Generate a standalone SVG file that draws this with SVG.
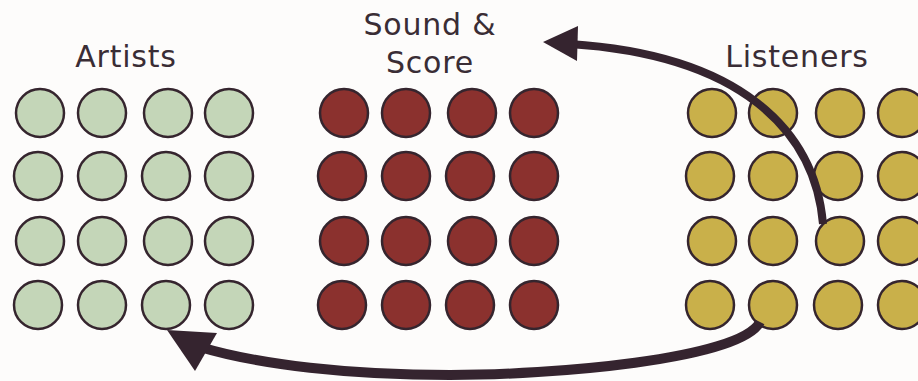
<svg xmlns="http://www.w3.org/2000/svg" width="918" height="381" viewBox="0 0 918 381">
<style>
.bg{fill:#fdfcfb}
circle{stroke:#35252e;stroke-width:2.5}
.a circle{fill:#c4d6b8}
.s circle{fill:#8b312e}
.l circle{fill:#c9b04a}
text{font-family:"DejaVu Sans",sans-serif;font-size:30px;fill:#3a2d35;text-anchor:middle;letter-spacing:0.8px}
.ln{fill:none;stroke:#35242f;stroke-linecap:butt}
.hd{fill:#35242f}
</style>
<rect class="bg" width="918" height="381"/>
<g id="artists" class="a">
<text x="126" y="67">Artists</text>
<circle cx="40" cy="113" r="24"/><circle cx="102" cy="113" r="24"/><circle cx="168" cy="113" r="24"/><circle cx="229" cy="113" r="24"/>
<circle cx="38" cy="176" r="24"/><circle cx="102" cy="176" r="24"/><circle cx="166" cy="176" r="24"/><circle cx="229" cy="176" r="24"/>
<circle cx="40" cy="241" r="24"/><circle cx="102" cy="241" r="24"/><circle cx="168" cy="241" r="24"/><circle cx="229" cy="241" r="24"/>
<circle cx="38" cy="305" r="24"/><circle cx="102" cy="305" r="24"/><circle cx="166" cy="305" r="24"/><circle cx="229" cy="305" r="24"/>
</g>
<g id="sound-score" class="s">
<text x="430" y="35">Sound &amp;</text>
<text x="430" y="73">Score</text>
<circle cx="344" cy="113" r="24"/><circle cx="406" cy="113" r="24"/><circle cx="472" cy="113" r="24"/><circle cx="534" cy="113" r="24"/>
<circle cx="342" cy="176" r="24"/><circle cx="406" cy="176" r="24"/><circle cx="470" cy="176" r="24"/><circle cx="534" cy="176" r="24"/>
<circle cx="344" cy="241" r="24"/><circle cx="406" cy="241" r="24"/><circle cx="472" cy="241" r="24"/><circle cx="534" cy="241" r="24"/>
<circle cx="342" cy="305" r="24"/><circle cx="406" cy="305" r="24"/><circle cx="470" cy="305" r="24"/><circle cx="534" cy="305" r="24"/>
</g>
<g id="listeners" class="l">
<text x="797" y="67">Listeners</text>
<circle cx="712" cy="113" r="24"/><circle cx="773" cy="113" r="24"/><circle cx="840" cy="113" r="24"/><circle cx="902" cy="113" r="24"/>
<circle cx="710" cy="176" r="24"/><circle cx="773" cy="176" r="24"/><circle cx="838" cy="176" r="24"/><circle cx="902" cy="176" r="24"/>
<circle cx="712" cy="241" r="24"/><circle cx="773" cy="241" r="24"/><circle cx="840" cy="241" r="24"/><circle cx="902" cy="241" r="24"/>
<circle cx="710" cy="305" r="24"/><circle cx="773" cy="305" r="24"/><circle cx="838" cy="305" r="24"/><circle cx="902" cy="305" r="24"/>
</g>
<g id="connectors">
<path class="ln" stroke-width="8" d="M 823 224 C 815 130, 740 55, 570 44"/>
<polygon class="hd" points="543,42 578,26 577,61"/>
<path class="ln" stroke-width="10" d="M 760 322 C 740 360, 550 375, 450 375 C 350 375, 260 365, 200 347"/>
<polygon class="hd" points="167,330 217,333 195,371"/>
</g>
</svg>
